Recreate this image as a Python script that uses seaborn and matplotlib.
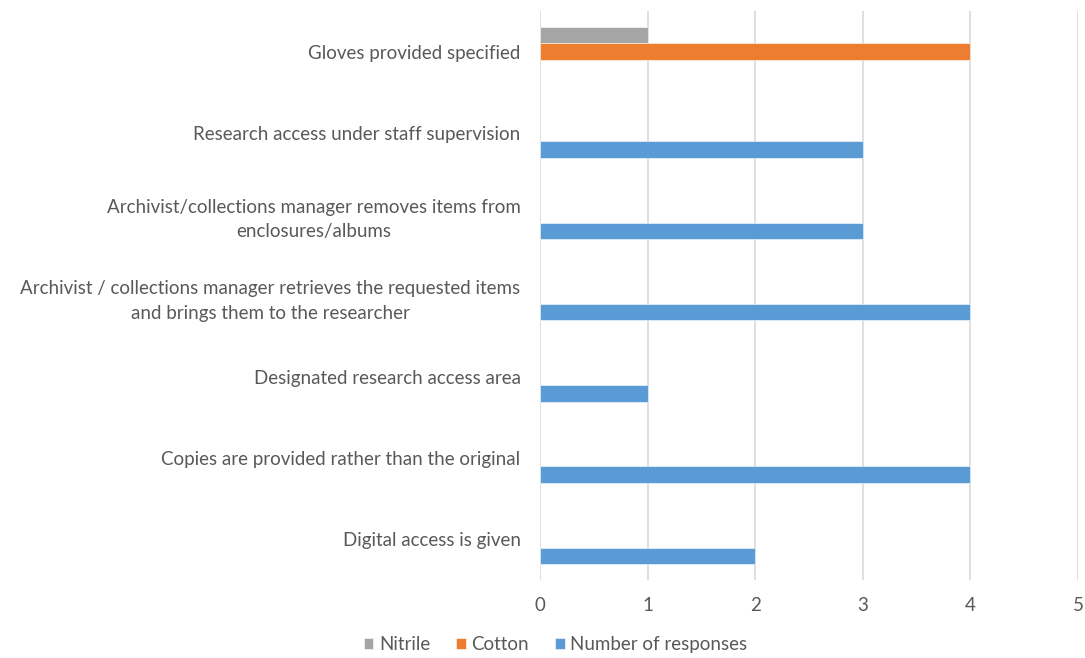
import matplotlib
matplotlib.use("Agg")
import matplotlib.pyplot as plt
import seaborn as sns
import pandas as pd

categories = [
    "Gloves provided specified",
    "Research access under staff supervision",
    "Archivist/collections manager removes items from\nenclosures/albums",
    "Archivist / collections manager retrieves the requested items\nand brings them to the researcher",
    "Designated research access area",
    "Copies are provided rather than the original",
    "Digital access is given",
]
series = ["Nitrile", "Cotton", "Number of responses"]
nitrile = [1, None, None, None, None, None, None]
cotton = [4, None, None, None, None, None, None]
responses = [None, 3, 3, 4, 1, 4, 2]
colors = ["#A5A5A5", "#ED7D31", "#5B9BD5"]
x_ticks = [0, 1, 2, 3, 4, 5]

rows = []
for name, vals in zip(series, [nitrile, cotton, responses]):
    for cat, v in zip(categories, vals):
        if v is not None:
            rows.append({"category": cat, "series": name, "value": v})
df = pd.DataFrame(rows)

sns.set_theme(style="white")
plt.rcParams["font.family"] = ["Lato", "DejaVu Sans"]
text_color = "#595959"
fs = 13.5

fig = plt.figure(figsize=(10.85, 6.58), dpi=100)
ax = fig.add_axes([0.4977, 0.1185, 0.4958, 0.8647])

sns.barplot(
    data=df, x="value", y="category", hue="series",
    order=categories, hue_order=series, palette=colors,
    orient="h", width=0.61, dodge=True, ax=ax,
    edgecolor="white", linewidth=0.4, saturation=1,
)

ax.set_xlim(0, 5)
ax.set_xticks(x_ticks)
ax.set_xticklabels([str(t) for t in x_ticks], color=text_color, fontsize=fs)
ax.xaxis.grid(True, color="#D9D9D9", linewidth=1.2)
ax.set_axisbelow(True)
for s in ax.spines.values():
    s.set_visible(False)
ax.tick_params(axis="x", length=0, pad=12)
ax.tick_params(axis="y", length=0, pad=14)
ax.set_xlabel("")
ax.set_ylabel("")
for lbl in ax.get_yticklabels():
    lbl.set_color(text_color)
    lbl.set_fontsize(fs)
    lbl.set_multialignment("center")
    lbl.set_linespacing(1.55)

handles, labels = ax.get_legend_handles_labels()
ax.legend(
    handles, labels, loc="center", bbox_to_anchor=(0.512, 0.02),
    bbox_transform=fig.transFigure, ncol=3, frameon=False,
    fontsize=fs, labelcolor=text_color, handlelength=0.5, handleheight=0.5,
    handletextpad=0.3, columnspacing=1.4,
)

fig.savefig("out.png", dpi=100, facecolor="white")
